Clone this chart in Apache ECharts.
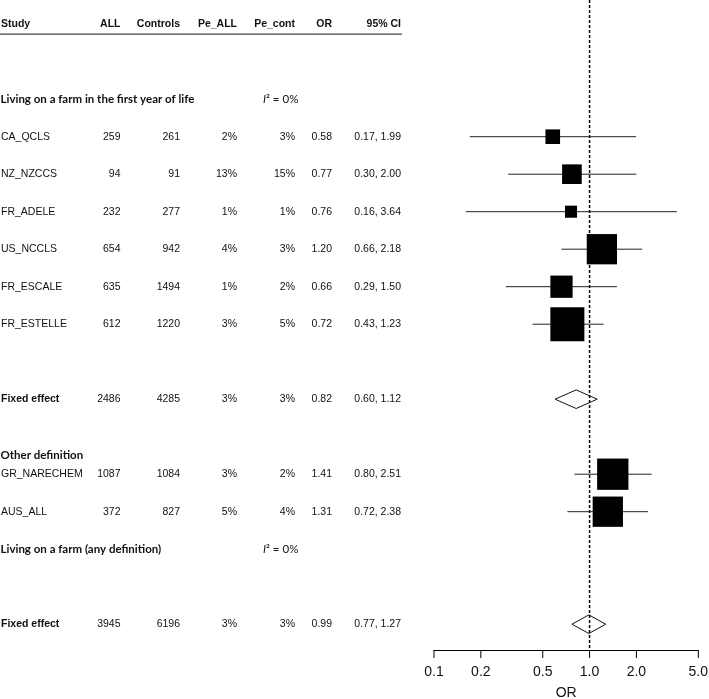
<!DOCTYPE html>
<html>
<head>
<meta charset="utf-8">
<script src="https://cdn.jsdelivr.net/npm/echarts@6/dist/echarts.min.js"></script>
<style>
html,body{margin:0;padding:0;background:#fff;}
#chart{width:709px;height:699px;}
</style>
</head>
<body>
<div id="chart"></div>
<script>
// ---------- data ----------
const headers = ['Study','ALL','Controls','Pe_ALL','Pe_cont','OR','95% CI'];
const studies   = ['CA_QCLS','NZ_NZCCS','FR_ADELE','US_NCCLS','FR_ESCALE','FR_ESTELLE','GR_NARECHEM','AUS_ALL'];
const nAll      = [259, 94, 232, 654, 635, 612, 1087, 372];
const nControls = [261, 91, 277, 942, 1494, 1220, 1084, 827];
const peAll     = ['2%','13%','1%','4%','1%','3%','3%','5%'];
const peCont    = ['3%','15%','1%','3%','2%','5%','2%','4%'];
const orVals    = [0.58, 0.77, 0.76, 1.20, 0.66, 0.72, 1.41, 1.31];
const ciLow     = [0.17, 0.30, 0.16, 0.66, 0.29, 0.43, 0.80, 0.72];
const ciHigh    = [1.99, 2.00, 3.64, 2.18, 1.50, 1.23, 2.51, 2.38];
const weights   = [4.1, 7.4, 2.8, 17.6, 9.5, 22.2, 18.8, 17.6]; // relative weight (%)
const studyRows = [3, 4, 5, 6, 7, 8, 12, 13];

const fixedLabels = ['Fixed effect','Fixed effect'];
const fixedAll    = [2486, 3945];
const fixedCtrl   = [4285, 6196];
const fixedPeAll  = ['3%','3%'];
const fixedPeCont = ['3%','3%'];
const fixedOR     = [0.82, 0.99];
const fixedLow    = [0.60, 0.77];
const fixedHigh   = [1.12, 1.27];
const fixedRows   = [10, 16];

const groupTitles = ['Living on a farm in the first year of life','Other definition','Living on a farm (any definition)'];
const groupI2     = ['0%', null, '0%'];
const groupRows   = [2, 11.5, 14];

const tickValues = [0.1, 0.2, 0.5, 1, 2, 5];

// ---------- layout ----------
const Y_MIN = -0.6453, Y_MAX = 16.688;
const colRight = {all:120.5, ctrl:180, peAll:237, peCont:295, or:332, ci:401};
const bodyFont = '10.5px "Liberation Sans", Arial, sans-serif';
const boldFont = 'bold 10.5px "Liberation Sans", Arial, sans-serif';
const headFont = 'bold 11.5px Lato, "Noto Sans", sans-serif';
const i2Font = '11.5px Lato, "Noto Sans", sans-serif';

// table rows
const tableRows = [];
tableRows.push({row:0, kind:'header'});
groupTitles.forEach((t,i)=>tableRows.push({row:groupRows[i], kind:'group', title:t, i2:groupI2[i]}));
studies.forEach((s,i)=>tableRows.push({row:studyRows[i], kind:'study', cells:[s, nAll[i], nControls[i], peAll[i], peCont[i], orVals[i].toFixed(2), ciLow[i].toFixed(2)+', '+ciHigh[i].toFixed(2)]}));
fixedLabels.forEach((s,i)=>tableRows.push({row:fixedRows[i], kind:'fixed', cells:[s, fixedAll[i], fixedCtrl[i], fixedPeAll[i], fixedPeCont[i], fixedOR[i].toFixed(2), fixedLow[i].toFixed(2)+', '+fixedHigh[i].toFixed(2)]}));

function txt(x, y, text, font, align){
  return {type:'text', style:{x:x, y:y, text:String(text), font:font, fill:'#111', align:align||'left', verticalAlign:'middle'}};
}

const chart = echarts.init(document.getElementById('chart'), null, {renderer:'canvas'});
const option = {
  backgroundColor:'#fff',
  animation:false,
  grid:{left:434, right:10.7, top:0, height:650, containLabel:false, outerBoundsMode:'none'},
  xAxis:{type:'log', logBase:10, min:0.1, max:5, position:'bottom',
    axisLine:{show:true, onZero:false, lineStyle:{color:'#000', width:1}},
    axisTick:{show:false}, axisLabel:{show:false}, splitLine:{show:false}},
  yAxis:{type:'value', min:Y_MIN, max:Y_MAX, inverse:true, show:false},
  series:[
    { // table text
      type:'custom', silent:true, z:5,
      data: tableRows.map((r,i)=>[1, r.row, i]),
      encode:{x:0, y:1},
      renderItem:function(params, api){
        const r = tableRows[api.value(2)];
        const y = api.coord([1, api.value(1)])[1];
        const ch = [];
        if (r.kind==='header'){
          const hx = [null, colRight.all, colRight.ctrl, colRight.peAll, colRight.peCont, colRight.or, colRight.ci];
          ch.push(txt(1, y, headers[0], boldFont, 'left'));
          for (let k=1;k<headers.length;k++) ch.push(txt(hx[k], y, headers[k], boldFont, 'right'));
          ch.push({type:'line', shape:{x1:0, y1:y+10, x2:402, y2:y+10}, style:{stroke:'#444', lineWidth:1.3}});
        } else if (r.kind==='group'){
          ch.push(txt(0.5, y, r.title, headFont, 'left'));
          if (r.i2) ch.push({type:'text', style:{x:263, y:y, text:'{i|I}² = '+r.i2, font:i2Font, fill:'#111', verticalAlign:'middle',
            rich:{i:{fontStyle:'italic', font:'italic 11.5px Lato, "Noto Sans", sans-serif'}}}});
        } else {
          const f = r.kind==='fixed' ? boldFont : bodyFont;
          ch.push(txt(1, y, r.cells[0], f, 'left'));
          const xs = [colRight.all, colRight.ctrl, colRight.peAll, colRight.peCont, colRight.or, colRight.ci];
          for (let k=1;k<r.cells.length;k++) ch.push(txt(xs[k-1], y, r.cells[k], bodyFont, 'right'));
        }
        return {type:'group', children:ch};
      }
    },
    { // study CIs and boxes
      type:'custom', z:3,
      data: studies.map((s,i)=>[orVals[i], ciLow[i], ciHigh[i], studyRows[i], weights[i]]),
      encode:{x:[0,1,2], y:3},
      renderItem:function(params, api){
        const row = api.value(3);
        const c = api.coord([api.value(0), row]);
        const l = api.coord([api.value(1), row]);
        const h = api.coord([api.value(2), row]);
        const s = Math.sqrt(api.value(4))*7.22;
        return {type:'group', children:[
          {type:'line', shape:{x1:l[0], y1:l[1], x2:h[0], y2:h[1]}, style:{stroke:'#222', lineWidth:1}},
          {type:'rect', shape:{x:c[0]-s/2, y:c[1]-s/2, width:s, height:s}, style:{fill:'#000'}}
        ]};
      }
    },
    { // fixed-effect diamonds
      type:'custom', z:3,
      data: fixedOR.map((v,i)=>[v, fixedLow[i], fixedHigh[i], fixedRows[i]]),
      encode:{x:[0,1,2], y:3},
      renderItem:function(params, api){
        const row = api.value(3);
        const c = api.coord([api.value(0), row]);
        const l = api.coord([api.value(1), row]);
        const h = api.coord([api.value(2), row]);
        const hh = 9.3;
        return {type:'polygon', shape:{points:[[l[0],c[1]],[c[0],c[1]-hh],[h[0],c[1]],[c[0],c[1]+hh]]},
          style:{fill:'none', stroke:'#111', lineWidth:1}};
      }
    },
    { // reference line at OR = 1
      type:'custom', z:4, silent:true,
      data:[[1]],
      encode:{x:0},
      renderItem:function(params, api){
        const t = api.coord([api.value(0), Y_MIN]);
        const b = api.coord([api.value(0), Y_MAX]);
        return {type:'line', shape:{x1:t[0], y1:t[1], x2:b[0], y2:b[1]},
          style:{stroke:'#000', lineWidth:1.5, lineDash:[3,2]}};
      }
    },
    { // axis ticks, labels and axis title
      type:'custom', z:4, silent:true,
      data: tickValues.map(v=>[v]),
      encode:{x:0},
      renderItem:function(params, api){
        const p = api.coord([api.value(0), Y_MAX]);
        const ch = [
          {type:'line', shape:{x1:p[0], y1:p[1], x2:p[0], y2:p[1]+8}, style:{stroke:'#000', lineWidth:1}},
          {type:'text', style:{x:p[0], y:p[1]+22, text:api.value(0).toFixed(1), font:'14px "Liberation Sans", Arial, sans-serif', fill:'#111', align:'center', verticalAlign:'middle'}}
        ];
        if (params.dataIndex === 0) {
          const a = api.coord([tickValues[0], Y_MAX]);
          const b = api.coord([tickValues[tickValues.length-1], Y_MAX]);
          ch.push({type:'text', style:{x:(a[0]+b[0])/2, y:p[1]+43, text:'OR', font:'14px "Liberation Sans", Arial, sans-serif', fill:'#111', align:'center', verticalAlign:'middle'}});
        }
        return {type:'group', children:ch};
      }
    }
  ]
};
chart.setOption(option);
</script>
</body>
</html>
